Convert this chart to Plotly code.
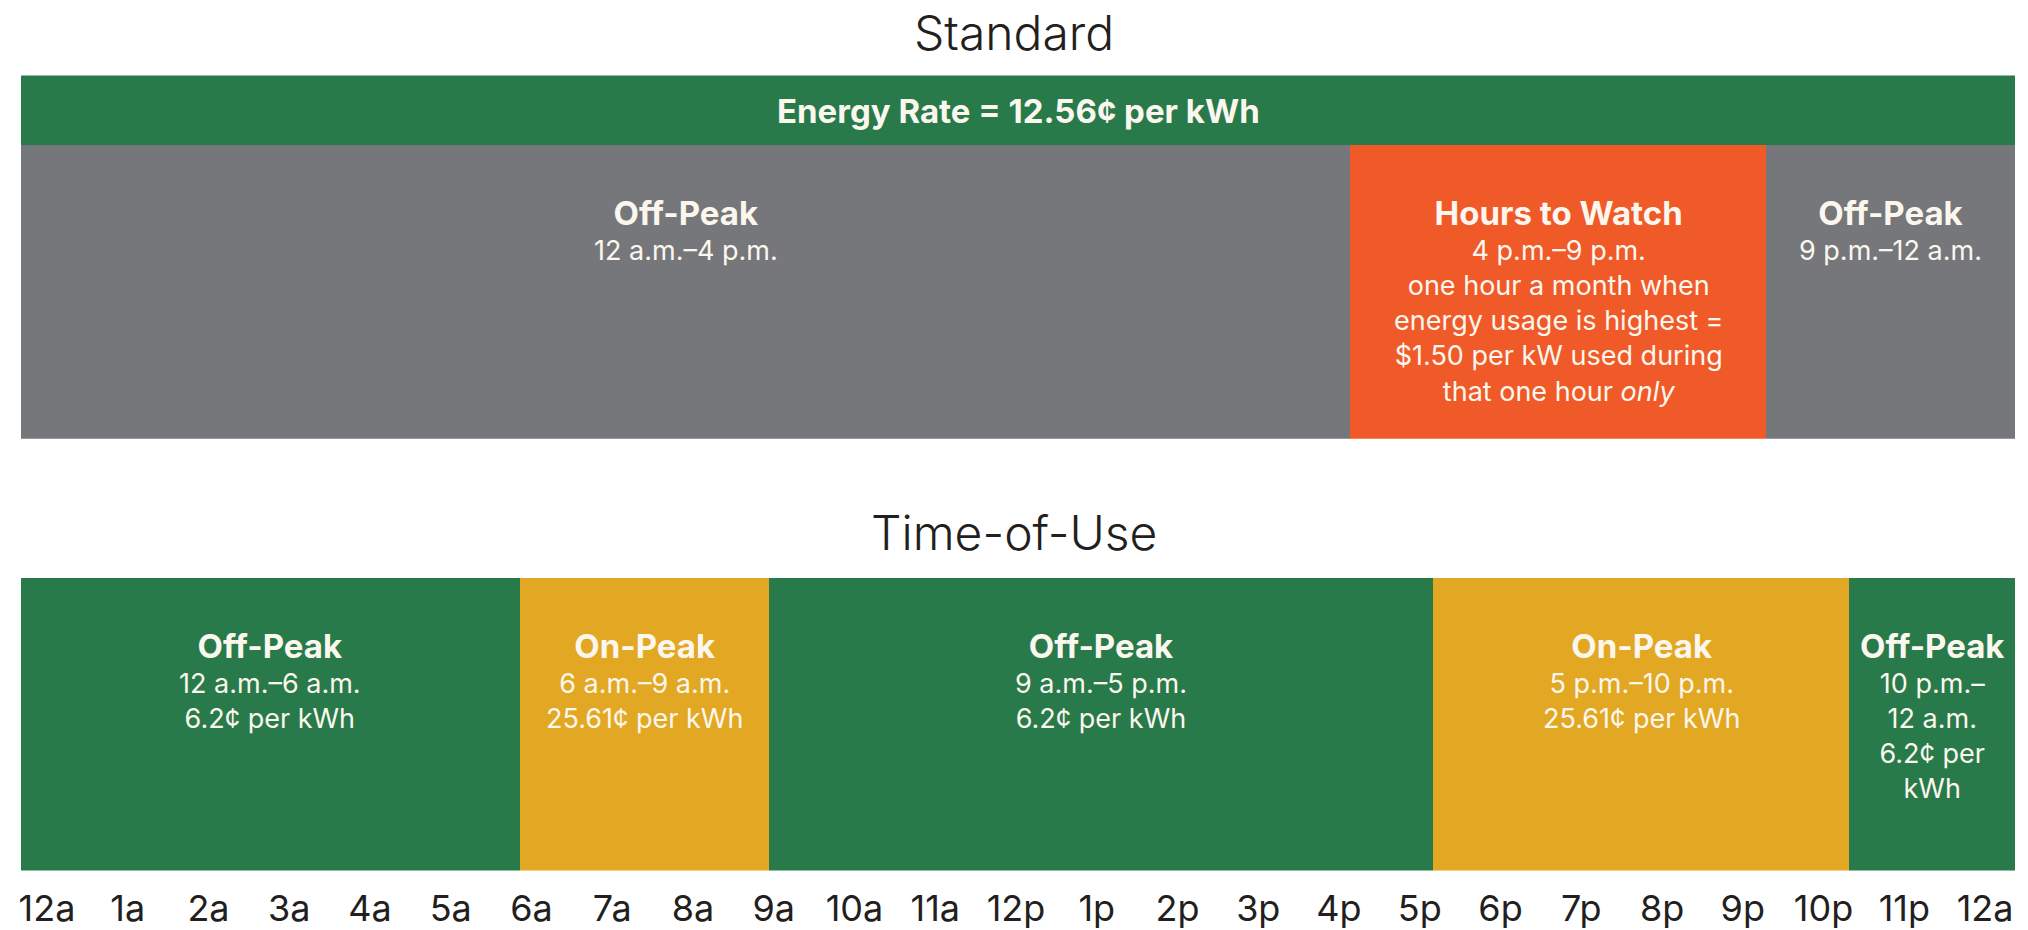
import plotly.graph_objects as go

# ---------------- data ----------------
energy_rate_label = "Energy Rate = 12.56¢ per kWh"

std_period = ["Off-Peak", "Hours to Watch", "Off-Peak"]
std_start = [0, 16, 21]
std_end = [16, 21, 24]
std_detail = [
    "12 a.m.–4 p.m.",
    "4 p.m.–9 p.m.<br>one hour a month when<br>energy usage is highest =<br>$1.50 per kW used during<br>that one hour <i>only</i>",
    "9 p.m.–12 a.m.",
]

tou_period = ["Off-Peak", "On-Peak", "Off-Peak", "On-Peak", "Off-Peak"]
tou_start = [0, 6, 9, 17, 22]
tou_end = [6, 9, 17, 22, 24]
tou_hours = ["12 a.m.–6 a.m.", "6 a.m.–9 a.m.", "9 a.m.–5 p.m.", "5 p.m.–10 p.m.", "10 p.m.–<br>12 a.m."]
tou_rate = ["6.2¢ per kWh", "25.61¢ per kWh", "6.2¢ per kWh", "25.61¢ per kWh", "6.2¢ per<br>kWh"]

hour_ticks = list(range(25))
hour_labels = ["12a", "1a", "2a", "3a", "4a", "5a", "6a", "7a", "8a", "9a", "10a", "11a",
               "12p", "1p", "2p", "3p", "4p", "5p", "6p", "7p", "8p", "9p", "10p", "11p", "12a"]

# ---------------- styles ----------------
GREEN = "#287A4A"
GRAY = "#76777B"
ORANGE = "#F05A28"
GOLD = "#E3A823"
TXT = "#FBF7EE"
DARK = "#231F20"
FONT = "Inter"
BODY = 27
HEAD = 33

std_colors = {"Off-Peak": GRAY, "Hours to Watch": ORANGE}
tou_colors = {"Off-Peak": GREEN, "On-Peak": GOLD}

W, H = 2028, 930
X0, X1 = 19, 2015


def yfrac(top_px, bot_px):
    return [1 - bot_px / H, 1 - top_px / H]


def head(t):
    return '<span style="font-size:%dpx"><b>%s</b></span>' % (HEAD, t)


fig = go.Figure()

# energy rate bar (full day)
fig.add_trace(go.Bar(orientation="h", base=[0], x=[24], y=[0], width=[1],
                     marker=dict(color=GREEN, line=dict(width=0)),
                     xaxis="x", yaxis="y", hoverinfo="skip", showlegend=False))

# standard periods
fig.add_trace(go.Bar(orientation="h", base=std_start,
                     x=[e - s for s, e in zip(std_start, std_end)],
                     y=[0] * len(std_start), width=[1] * len(std_start),
                     marker=dict(color=[std_colors[p] for p in std_period], line=dict(width=0)),
                     xaxis="x2", yaxis="y2", hoverinfo="skip", showlegend=False))

# time-of-use periods
fig.add_trace(go.Bar(orientation="h", base=tou_start,
                     x=[e - s for s, e in zip(tou_start, tou_end)],
                     y=[0] * len(tou_start), width=[1] * len(tou_start),
                     marker=dict(color=[tou_colors[p] for p in tou_period], line=dict(width=0)),
                     xaxis="x3", yaxis="y3", hoverinfo="skip", showlegend=False))

# invisible trace to carry the hour tick axis
fig.add_trace(go.Scatter(x=[hour_ticks[0], hour_ticks[-1]], y=[0, 0], mode="markers",
                         marker=dict(opacity=0), xaxis="x4", yaxis="y3",
                         hoverinfo="skip", showlegend=False))

dom_x = [X0 / W, X1 / W]
hidden = dict(showgrid=False, zeroline=False, showticklabels=False, ticks="", showline=False)

# tick axis: first 12a centred at ~45px, last 12a at ~1985px
a = -0.3217
b = 24.371

fig.update_layout(
    width=W, height=H,
    margin=dict(l=0, r=0, t=0, b=0),
    paper_bgcolor="white", plot_bgcolor="rgba(0,0,0,0)",
    barmode="overlay", bargap=0,
    xaxis=dict(domain=dom_x, range=[0, 24], anchor="y", fixedrange=True, **hidden),
    xaxis2=dict(domain=dom_x, range=[0, 24], anchor="y2", fixedrange=True, **hidden),
    xaxis3=dict(domain=dom_x, range=[0, 24], anchor="y3", fixedrange=True, **hidden),
    xaxis4=dict(domain=dom_x, range=[a, b], anchor="y3", overlaying="x3", side="bottom",
                tickmode="array", tickvals=hour_ticks, ticktext=hour_labels,
                showgrid=False, zeroline=False, showline=False,
                ticks="outside", ticklen=6, tickcolor="rgba(0,0,0,0)",
                tickfont=dict(family=FONT, size=36, color=DARK), fixedrange=True),
    yaxis=dict(domain=yfrac(76, 147), range=[-0.5, 0.5], anchor="x", **hidden),
    yaxis2=dict(domain=yfrac(146, 442), range=[-0.5, 0.5], anchor="x2", **hidden),
    yaxis3=dict(domain=yfrac(582, 877), range=[-0.5, 0.5], anchor="x3", **hidden),
)

ann = []
# titles
ann.append(dict(text="Standard", x=0.4995, y=1 - 33 / H, xref="paper", yref="paper",
                xanchor="center", yanchor="middle",
                showarrow=False, font=dict(family=FONT, size=48, color=DARK, weight=300)))
ann.append(dict(text="Time-of-Use", x=0.4995, y=1 - 537 / H, xref="paper", yref="paper",
                xanchor="center", yanchor="middle",
                showarrow=False, font=dict(family=FONT, size=48, color=DARK, weight=300)))

# energy rate label
ann.append(dict(text="<b>" + energy_rate_label + "</b>", x=12, y=0, xref="x", yref="y",
                showarrow=False, font=dict(family=FONT, size=33, color=TXT)))

for p, s, e, d in zip(std_period, std_start, std_end, std_detail):
    ann.append(dict(text=head(p) + "<br>" + d, x=(s + e) / 2, y=1,
                    xref="x2", yref="y2 domain", yanchor="top", yshift=-46,
                    showarrow=False, align="center",
                    font=dict(family=FONT, size=BODY, color=TXT)))

for p, s, e, hrs, r in zip(tou_period, tou_start, tou_end, tou_hours, tou_rate):
    ann.append(dict(text=head(p) + "<br>" + hrs + "<br>" + r, x=(s + e) / 2, y=1,
                    xref="x3", yref="y3 domain", yanchor="top", yshift=-46,
                    showarrow=False, align="center",
                    font=dict(family=FONT, size=BODY, color=TXT)))

fig.update_layout(annotations=ann)

fig.write_html("out.html", config={"displayModeBar": False},
               post_script="document.body.style.margin='0';")
